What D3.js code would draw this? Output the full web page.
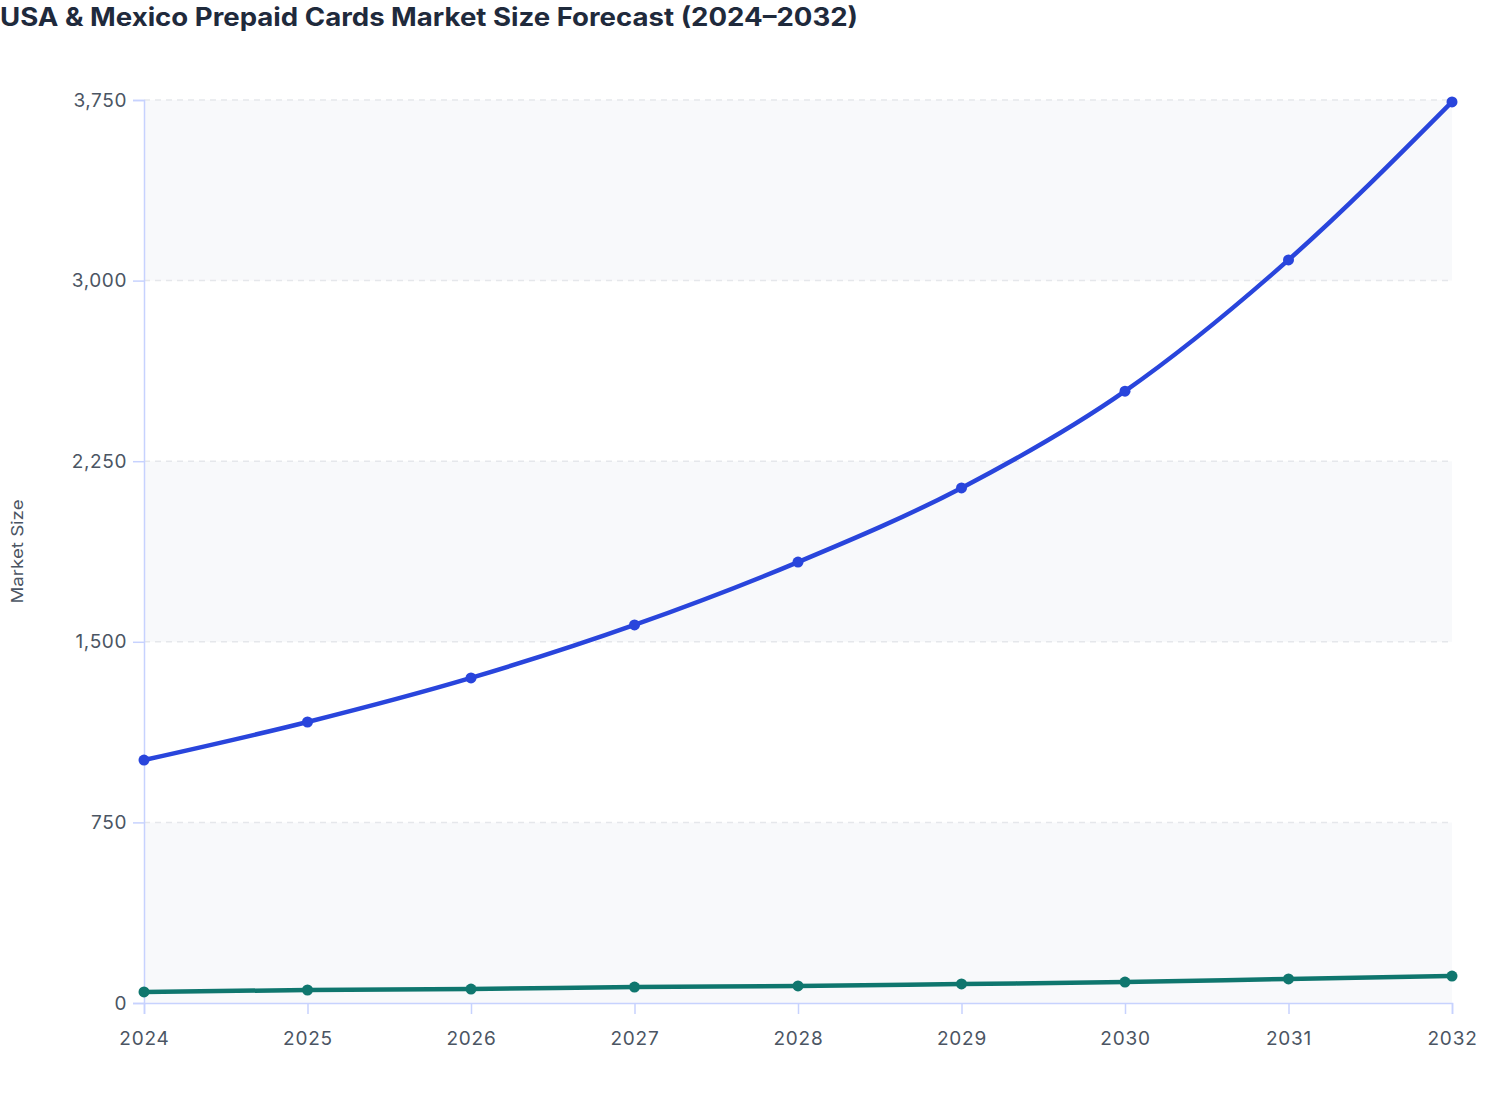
<!DOCTYPE html>
<html>
<head>
<meta charset="utf-8">
<script src="https://cdn.jsdelivr.net/npm/d3@7"></script>
<style>
  html, body { margin: 0; padding: 0; background: #ffffff; }
  svg { display: block; font-family: Inter, "Noto Sans", sans-serif; }
</style>
</head>
<body>
<svg id="chart" width="1508" height="1120"></svg>
<script>
const years = ["2024","2025","2026","2027","2028","2029","2030","2031","2032"];
const usaValues = [1009, 1167, 1350, 1570, 1831, 2139, 2541, 3086, 3742];
const mexicoValues = [46, 54, 58, 66, 71, 79, 87, 100, 112];
const yTicks = [0, 750, 1500, 2250, 3000, 3750];
const titleText = "USA & Mexico Prepaid Cards Market Size Forecast (2024\u20132032)";
const yAxisLabel = "Market Size";

const svg = d3.select("#chart");
const margin = { left: 144, right: 56, top: 100, bottom: 117 };
const W = 1508, H = 1120;

const x = d3.scalePoint().domain(years).range([margin.left, W - margin.right]);
const y = d3.scaleLinear().domain([0, 3750]).range([H - margin.bottom, margin.top]);

// alternating bands
const bands = [];
for (let i = 0; i < yTicks.length - 1; i++) bands.push([yTicks[i], yTicks[i + 1], i]);
svg.append("g").selectAll("rect").data(bands).join("rect")
  .attr("x", margin.left)
  .attr("width", (W - margin.right) - margin.left)
  .attr("y", d => y(d[1]))
  .attr("height", d => y(d[0]) - y(d[1]))
  .attr("fill", d => (d[2] % 2 === 0) ? "#f8f9fb" : "#ffffff");

// grid
svg.append("g").selectAll("line").data(yTicks.filter(t => t > 0)).join("line")
  .attr("x1", margin.left).attr("x2", W - margin.right)
  .attr("y1", d => y(d)).attr("y2", d => y(d))
  .attr("stroke", "#e5e7eb").attr("stroke-width", 1.5)
  .attr("stroke-dasharray", "6,5");

// title
svg.append("text")
  .attr("x", 0).attr("y", 26)
  .attr("font-size", 25).attr("font-weight", 700)
  .attr("fill", "#1f2a3c")
  .attr("textLength", 858)
  .attr("lengthAdjust", "spacingAndGlyphs")
  .text(titleText);

// y axis
const yAxis = d3.axisLeft(y).tickValues(yTicks).tickSize(11).tickPadding(6)
  .tickFormat(d3.format(","));
const gy = svg.append("g").attr("transform", `translate(${margin.left},0)`).call(yAxis);
gy.select(".domain").attr("stroke", "#c7d2fe").attr("stroke-width", 1.5);
gy.selectAll(".tick line").attr("stroke", "#c7d2fe").attr("stroke-width", 1.5);
gy.selectAll(".tick text").attr("fill", "#4b5563").attr("font-size", 19)
  .attr("letter-spacing", "0.6")
  .attr("font-family", "Inter, sans-serif");

// x axis
const xAxis = d3.axisBottom(x).tickSize(11).tickPadding(18);
const gx = svg.append("g").attr("transform", `translate(0,${H - margin.bottom})`).call(xAxis);
gx.select(".domain").attr("stroke", "#c7d2fe").attr("stroke-width", 1.5);
gx.selectAll(".tick line").attr("stroke", "#c7d2fe").attr("stroke-width", 1.5);
gx.selectAll(".tick text").attr("fill", "#4b5563").attr("font-size", 19)
  .attr("letter-spacing", "0.8")
  .attr("font-family", "Inter, sans-serif");

// y axis label
svg.append("text")
  .attr("transform", `translate(23, ${(y(0) + y(3750)) / 2}) rotate(-90)`)
  .attr("text-anchor", "middle")
  .attr("font-size", 16).attr("fill", "#4b5563")
  .attr("textLength", 104)
  .attr("lengthAdjust", "spacingAndGlyphs")
  .text(yAxisLabel);

const series = [
  { name: "USA", values: usaValues, color: "#2945dc" },
  { name: "Mexico", values: mexicoValues, color: "#0f766e" }
];

const line = d3.line()
  .x((d, i) => x(years[i]))
  .y(d => y(d))
  .curve(d3.curveMonotoneX);

series.forEach(s => {
  svg.append("path")
    .datum(s.values)
    .attr("fill", "none")
    .attr("stroke", s.color)
    .attr("stroke-width", 4.5)
    .attr("stroke-linejoin", "round")
    .attr("stroke-linecap", "round")
    .attr("d", line);
  svg.append("g").selectAll("circle").data(s.values).join("circle")
    .attr("cx", (d, i) => x(years[i]))
    .attr("cy", d => y(d))
    .attr("r", 5.5)
    .attr("fill", s.color);
});
</script>
</body>
</html>
